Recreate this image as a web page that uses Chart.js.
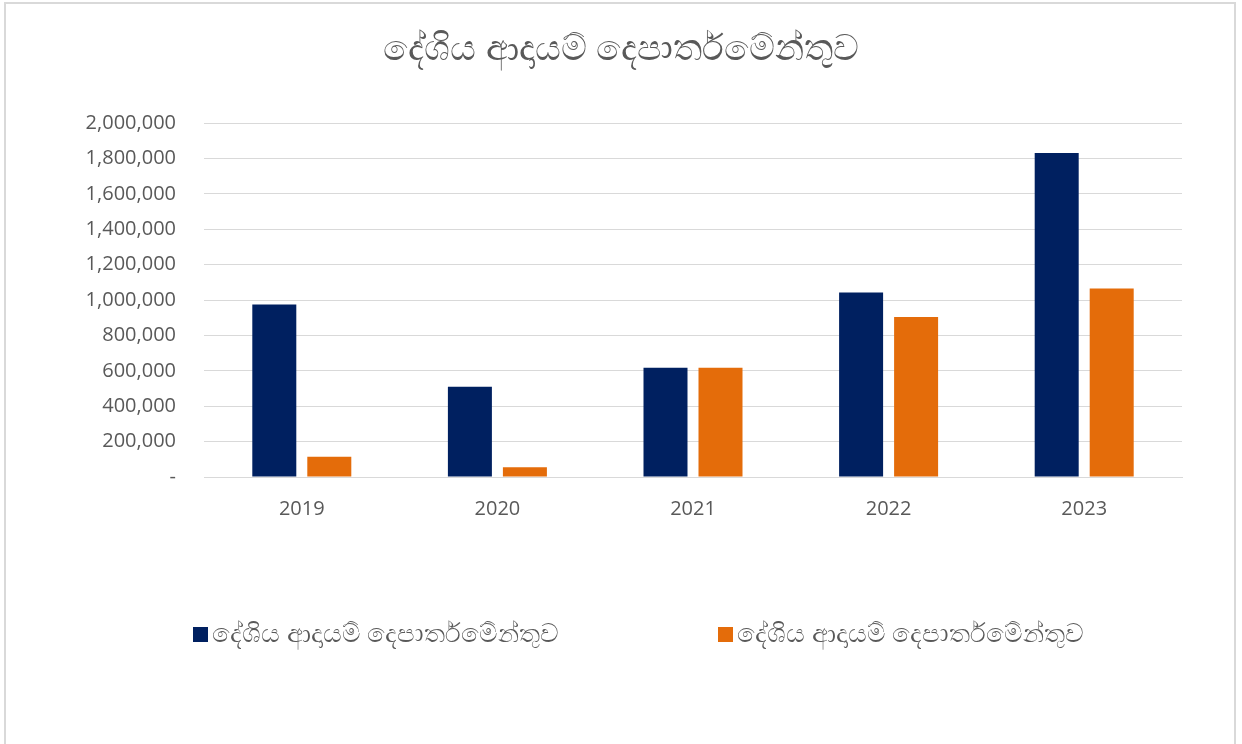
<!DOCTYPE html>
<html>
<head>
<meta charset="utf-8">
<script src="https://cdn.jsdelivr.net/npm/chart.js@4.4.0/dist/chart.umd.min.js"></script>
<style>
  html, body { margin: 0; padding: 0; background: #fff; }
  #wrap { position: relative; width: 1242px; height: 744px; overflow: hidden; }
  #frame { position: absolute; left: 4px; top: 2px; width: 1228px; height: 800px; border: 2px solid #d9d9d9; }
  #chart { position: absolute; left: 0; top: 0; }
  #legend { position: absolute; top: 618px; left: 0; width: 1242px; height: 30px; font-family: "Noto Sans", "Open Sans", sans-serif; font-size: 25.6px; color: #595959; }
  .item { position: absolute; top: 0; height: 30px; line-height: 30px; white-space: nowrap; }
  .box { display: inline-block; width: 15px; height: 15px; vertical-align: middle; margin-right: 4px; position: relative; top: -1px; }
</style>
</head>
<body>
<div id="wrap">
  <div id="frame"></div>
  <canvas id="chart" width="1242" height="744"></canvas>
  <div id="legend"></div>
</div>
<script>
const title = 'දේශිය ආදායම් දෙපාර්තමේන්තුව';
const years = ['2019', '2020', '2021', '2022', '2023'];
const seriesNames = ['දේශිය ආදායම් දෙපාර්තමේන්තුව', 'දේශිය ආදායම් දෙපාර්තමේන්තුව'];
const seriesA = [975000, 510000, 618000, 1043000, 1832000];
const seriesB = [115000, 55000, 617000, 904000, 1066000];
const colors = ['#002060', '#E46C0A'];

const textGray = '#595959';
const gridGray = '#d9d9d9';

const ctx = document.getElementById('chart').getContext('2d');
const chart = new Chart(ctx, {
    type: 'bar',
    data: {
        labels: years,
        datasets: [
            { label: seriesNames[0], data: seriesA, backgroundColor: colors[0] },
            { label: seriesNames[1], data: seriesB, backgroundColor: colors[1] }
        ]
    },
    options: {
        responsive: false,
        animation: false,
        categoryPercentage: 0.5624,
        barPercentage: 0.8,
        layout: { padding: { left: 60, right: 60, top: 0, bottom: 203 } },
        plugins: {
            legend: { display: false },
            tooltip: { enabled: false },
            title: {
                display: true,
                text: title,
                color: textGray,
                font: { family: 'Noto Sans', size: 36, weight: 'normal' },
                padding: { top: 28, bottom: 52 }
            }
        },
        scales: {
            x: {
                grid: { display: false, drawTicks: false },
                border: { color: gridGray, width: 1 },
                ticks: { color: textGray, padding: 20, font: { family: 'Open Sans', size: 20 } }
            },
            y: {
                min: 0,
                max: 2000000,
                afterFit: function(scale) { scale.width = 144; },
                grid: { color: gridGray, drawTicks: false },
                border: { display: false },
                ticks: {
                    stepSize: 200000,
                    color: textGray,
                    padding: 28,
                    font: { family: 'Open Sans', size: 20 },
                    callback: function(v) { return v === 0 ? '-' : v.toLocaleString('en-US'); }
                }
            }
        }
    }
});

// legend as html, colours taken from the datasets
const legendPos = [193, 718];
const legend = document.getElementById('legend');
chart.data.datasets.forEach(function(ds, i) {
    const item = document.createElement('span');
    item.className = 'item';
    item.style.left = legendPos[i] + 'px';
    item.innerHTML = '<span class="box" style="background:' + ds.backgroundColor + '"></span>' + ds.label;
    legend.appendChild(item);
});
</script>
</body>
</html>
